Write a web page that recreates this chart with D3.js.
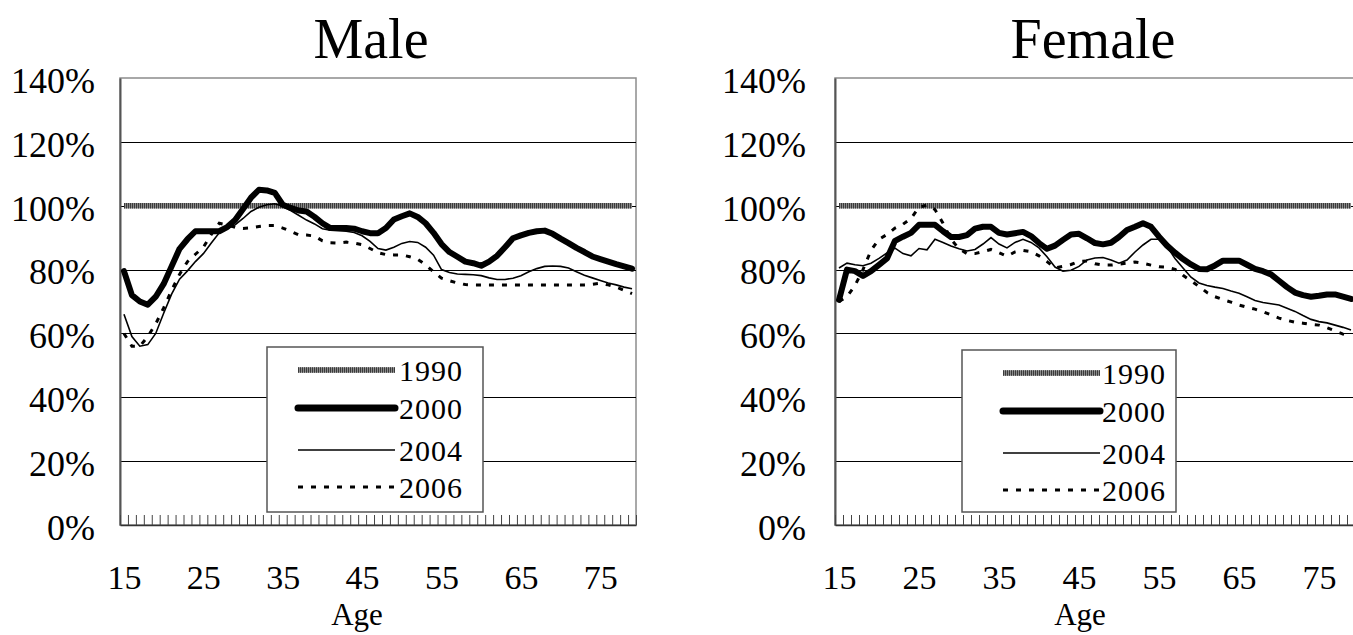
<!DOCTYPE html>
<html>
<head>
<meta charset="utf-8">
<script src="https://cdn.jsdelivr.net/npm/d3@7"></script>
<style>
  html, body { margin: 0; padding: 0; background: #fff; }
  svg { display: block; font-family: "Liberation Serif", "Times New Roman", serif; }
</style>
</head>
<body>
<svg id="chart" width="1353" height="635"></svg>
<script>
// ---------- DATA ----------
const ages = [15,16,17,18,19,20,21,22,23,24,25,26,27,28,29,30,31,32,33,34,35,36,37,38,39,40,
  41,42,43,44,45,46,47,48,49,50,51,52,53,54,55,56,57,58,59,60,61,62,63,64,65,66,67,68,69,70,
  71,72,73,74,75,76,77,78,79];
const xTickLabels = [15,25,35,45,55,65,75];
const yTickValues = [0,20,40,60,80,100,120,140];
const seriesNames = ["1990","2000","2004","2006"];

const male1990 = [100,100,100,100,100,100,100,100,100,100,100,100,100,100,100,100,100,100,100,100,
  100,100,100,100,100,100,100,100,100,100,100,100,100,100,100,100,100,100,100,100,
  100,100,100,100,100,100,100,100,100,100,100,100,100,100,100,100,100,100,100,100,
  100,100,100,100,100];
const male2000 = [79.5,72,70,69,71.5,75.5,81,86.5,89.5,92,92,92,92,93.3,95.5,99,102.5,105,104.8,104,
  100.3,99.3,98.5,98.2,96.5,94.5,93,93,93,92.8,92,91.4,91.4,93,95.7,96.7,97.6,96.5,94.5,91.5,
  88,85.5,84,82.5,82,81.2,82.5,84.3,87,89.8,90.7,91.5,92,92.2,91.2,89.7,88.3,86.8,85.5,84.1,
  83.3,82.5,81.7,81,80.3];
const male2004 = [66,59,56,56.5,60,66.3,72.3,77,79.6,82.5,85,88.3,91.5,92.8,94,96,98.2,99.5,100.3,100.6,
  99.8,98.5,97,95.5,94.3,92.8,92.3,92.2,92,91.6,90.6,88.8,86.6,86.1,87,88.2,88.8,88.5,87,84.5,
  80,79.1,78.6,78.5,78.4,78.1,77.4,76.9,76.9,77.3,78.1,79.3,80.3,81,81.1,81,80.5,79.3,78.2,77.4,
  76.6,75.8,75.2,74.5,74];
const male2006 = [60,56,56,59,63,68,73.5,78.5,82.5,84.8,87,91,94.5,94,93.2,92.9,93.1,93.5,93.8,93.8,
  93,92,90.9,90.8,90.5,89,88.4,88.3,88.6,88.3,87.8,86.6,85.3,84.7,84.6,84.6,84,83.2,81.5,79.3,
  77.3,76.5,75.8,75.3,75.2,75.2,75.2,75.2,75.2,75.2,75.2,75.2,75.2,75.2,75.2,75.2,75.2,75.2,75.2,75.4,
  75.7,75.2,74.5,73.5,72.5];

const female1990 = [100,100,100,100,100,100,100,100,100,100,100,100,100,100,100,100,100,100,100,100,
  100,100,100,100,100,100,100,100,100,100,100,100,100,100,100,100,100,100,100,100,
  100,100,100,100,100,100,100,100,100,100,100,100,100,100,100,100,100,100,100,100,
  100,100,100,100,100];
const female2000 = [70.5,80,79.5,78,79.5,81.5,83.5,89,90.3,91.5,94,94,94,92,90.2,90.2,90.8,92.8,93.4,93.4,
  91.5,91,91.4,91.8,90.5,88.3,86.5,87.5,89.3,91,91.2,89.8,88.3,87.9,88.4,90.2,92.4,93.4,94.5,93.4,
  90.3,87.5,85.3,83.3,81.6,80.2,80.1,81.3,82.8,82.8,82.8,81.5,80.2,79.5,78.5,76.5,74.5,72.8,72,71.5,
  71.8,72.2,72.2,71.5,70.8];
const female2004 = [80.5,82,81.5,81.2,82,83.5,85.2,86.7,85,84.3,86.6,86.2,89.5,88.5,87.4,86.5,85.8,86.3,88,90,
  88,86.8,88.5,89.5,88.5,86.8,84,80.8,79.5,79.8,81,83,83.6,83.8,83,82,83,85.5,87.7,89.5,
  89.5,87.2,83.5,80.5,77.6,75.8,75,74.5,74.1,73.3,72.6,71.5,70.3,69.7,69.3,68.9,67.9,66.9,65.6,64.4,
  63.7,63.3,62.6,61.9,61.1];
const female2006 = [70,71.5,75,80,86,89.5,91,93,94.2,96,99.5,100.2,98.8,94.5,89.5,86.5,85,85,85.6,86.3,
  85.3,84.2,85.5,86,85.6,84.3,82.5,80.5,81,81.6,82.6,82.7,81.8,81.4,81.4,81.7,82,82.4,82,81.4,
  80.9,80.8,80.1,78.2,76.5,74.7,72.8,71.5,70.6,69.8,68.9,68.2,67.6,66.8,65.8,64.8,64.1,63.5,63.2,62.8,
  62.6,61.8,60.8,59.8,59];

// ---------- LAYOUT / STYLE ----------
const panels = [
  { title: "Male", titleX: 371, x0: 120, x1: 636, labelRight: 95, ageLabelX: 357,
    legend: { x: 267, y: 347, w: 216, h: 165, lineX0: 298, lineX1: 395, textX: 399 },
    series: [male1990, male2000, male2004, male2006] },
  { title: "Female", titleX: 1093, x0: 835, x1: 1355, labelRight: 806, ageLabelX: 1080,
    legend: { x: 962, y: 350, w: 214, h: 162, lineX0: 1003, lineX1: 1100, textX: 1102 },
    series: [female1990, female2000, female2004, female2006] }
];
const yTop = 78, yBottom = 525;
const legendRowsDy = [23, 61, 103, 140];

const svg = d3.select("#chart");

const styles = [
  [{ stroke: "#8a8a8a", width: 5.5, dash: null }, { stroke: "#3a3a3a", width: 5.5, dash: "1,1" }],
  [{ stroke: "#000", width: 6, dash: null, cap: "round", join: "round" }],
  [{ stroke: "#000", width: 1.6, dash: null }],
  [{ stroke: "#000", width: 3, dash: "5,8" }]
];

panels.forEach(p => {
  const g = svg.append("g");
  const x = d3.scaleLinear().domain([ages[0] - 0.5, ages[ages.length - 1] + 0.5]).range([p.x0, p.x1]);
  const y = d3.scaleLinear().domain([0, 140]).range([yBottom, yTop]);

  g.append("text").attr("x", p.titleX).attr("y", 58).attr("text-anchor", "middle")
    .attr("font-size", 56).attr("fill", "#000").text(p.title);

  g.append("rect").attr("x", p.x0).attr("y", yTop).attr("width", p.x1 - p.x0).attr("height", yBottom - yTop)
    .attr("fill", "none").attr("stroke", "#8c8c8c").attr("stroke-width", 1.5);

  const grid = g.append("g").attr("transform", `translate(${p.x0},0)`)
    .call(d3.axisLeft(y).tickValues(yTickValues.slice(1, -1)).tickSize(-(p.x1 - p.x0)).tickFormat(""));
  grid.select(".domain").remove();
  grid.selectAll(".tick line").attr("stroke", "#000").attr("stroke-width", 1).attr("shape-rendering", "crispEdges");

  const ya = g.append("g").attr("transform", `translate(${p.x0},0)`)
    .call(d3.axisLeft(y).tickValues(yTickValues).tickSize(0).tickPadding(p.x0 - p.labelRight).tickFormat(d => d + "%"));
  ya.select(".domain").attr("stroke", "#555").attr("stroke-width", 2);
  ya.selectAll("text").attr("font-size", 36).attr("font-family", "Liberation Serif").attr("fill", "#000")
    .attr("dy", "0.4em");

  const boundaries = ages.map(a => a - 0.5).concat([ages[ages.length - 1] + 0.5]);
  const xa = g.append("g").attr("transform", `translate(0,${yBottom})`)
    .call(d3.axisBottom(x).tickValues(boundaries).tickSize(-10).tickSizeOuter(0).tickFormat(""));
  xa.select(".domain").attr("stroke", "#333").attr("stroke-width", 1.5);
  xa.selectAll(".tick line").attr("stroke", "#444").attr("stroke-width", 1);

  const xl = g.append("g").attr("transform", `translate(0,${yBottom})`)
    .call(d3.axisBottom(x).tickValues(xTickLabels).tickSize(0).tickPadding(40).tickFormat(d3.format("d")));
  xl.select(".domain").remove();
  xl.selectAll("text").attr("font-size", 34).attr("font-family", "Liberation Serif").attr("fill", "#000");

  g.append("text").attr("x", p.ageLabelX).attr("y", 625).attr("text-anchor", "middle")
    .attr("font-size", 31).attr("fill", "#000").text("Age");

  const line = d3.line().x((d, i) => x(ages[i])).y(d => y(d));
  [0, 2, 3, 1].forEach(si => {
    styles[si].forEach(st => {
      g.append("path").datum(p.series[si]).attr("d", line)
        .attr("fill", "none").attr("stroke", st.stroke).attr("stroke-width", st.width)
        .attr("stroke-dasharray", st.dash).attr("stroke-linejoin", st.join || "miter")
        .attr("stroke-linecap", st.cap || "butt");
    });
  });

  const L = p.legend;
  const lg = g.append("g");
  lg.append("rect").attr("x", L.x).attr("y", L.y).attr("width", L.w).attr("height", L.h)
    .attr("fill", "#fff").attr("stroke", "#555").attr("stroke-width", 1.5);
  seriesNames.forEach((name, si) => {
    const yy = L.y + legendRowsDy[si];
    styles[si].forEach(st => {
      lg.append("line").attr("x1", L.lineX0).attr("x2", L.lineX1).attr("y1", yy).attr("y2", yy)
        .attr("stroke", st.stroke).attr("stroke-width", st.width + (si === 1 ? 1 : 0))
        .attr("stroke-dasharray", st.dash).attr("stroke-linecap", st.cap || "butt");
    });
    lg.append("text").attr("x", L.textX).attr("y", yy).attr("dy", "0.35em")
      .attr("font-size", 30).attr("letter-spacing", 1).attr("fill", "#000").text(name);
  });
});
</script>
</body>
</html>
